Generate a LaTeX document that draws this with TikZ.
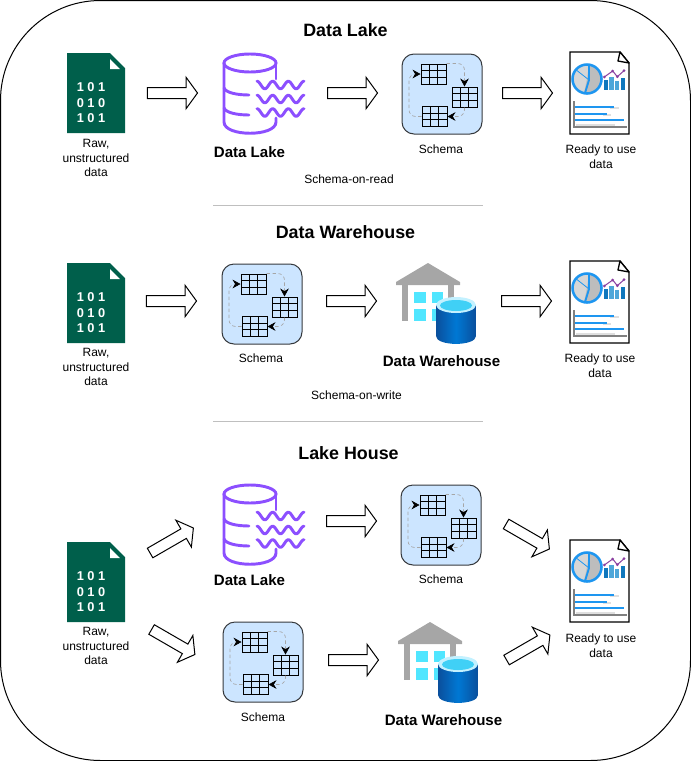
\documentclass[tikz,border=0pt]{standalone}
\usepackage{fontspec}
\setmainfont{Liberation Sans}
\usetikzlibrary{arrows.meta,shapes.arrows}
\definecolor{filegreen}{HTML}{005F4B}
\definecolor{lakepurple}{HTML}{8C4FFF}
\definecolor{schemablue}{HTML}{CCE5FF}
\definecolor{schemaline}{HTML}{36393D}
\definecolor{piegray}{HTML}{BDBDBD}
\definecolor{pielight}{HTML}{D6D6D6}
\definecolor{reportblue}{HTML}{1E96F0}
\definecolor{bardark}{HTML}{0F77BD}
\definecolor{barlight}{HTML}{4DA6D9}
\definecolor{chartpurple}{HTML}{8A3FA0}
\definecolor{housegray}{HTML}{A6A6A6}
\definecolor{windowcyan}{HTML}{50E6FF}
\definecolor{tankdark}{HTML}{0A4F9C}
\definecolor{tankmid}{HTML}{0078D4}
\definecolor{tankrim}{HTML}{C3F1FF}

\tikzset{
bittext/.style ={text=white, font=\fontsize{9.6}{11}\selectfont\bfseries, inner sep=0pt},
tablebox/.style ={rectangle, draw=black, line width=0.75pt, inner sep=0pt, minimum width=18.75pt, minimum height=15pt,
  path picture={
    \foreach \cx in {-4.2,4.2} \draw[line width=0.75pt] (\cx,-10) -- (\cx,10);
    \foreach \cy in {-3.4,3.4} \draw[line width=0.75pt] (-12.5,\cy) -- (12.5,\cy);
  }},
flowline/.style ={draw=gray!70, line width=0.5pt, dash pattern=on 2.5pt off 2pt, rounded corners=5pt,
  -{Stealth[length=6pt,width=6.5pt,inset=2pt,black]}},
rawfile/.pic ={
  \fill[filegreen] (-29,-40) -- (14,-40) -- (29,-25) -- (29,40) -- (-29,40) -- cycle;
  \fill[white] (14,-34) -- (14,-24) -- (24,-24) -- cycle;
  \node[bittext] (-row1) at (-5,-6) {1 0 1};
  \node[bittext] (-row2) at (-5,10) {0 1 0};
  \node[bittext] (-row3) at (-5,25) {1 0 1};
},
lakedb/.pic ={
  \begin{scope}[draw=lakepurple, line width=2.2pt, line cap=round]
  \draw (-13,-30) ellipse [x radius=26, y radius=9];
  \draw (-39,-30) -- (-39,29) .. controls (-39,44) and (13,44) .. (13,29) -- (13,25);
  \draw (13,-30) -- (13,-14);
  \draw (-39,-5) .. controls (-37,0) and (-25,2) .. (-14,2);
  \draw (-39,15) .. controls (-37,20) and (-25,22) .. (-14,22);
  \foreach \wy in {-8,6,19.5}
    \draw[line join=round] plot[domain=-6:41,samples=50] (\x,{\wy-3.8*cos((\x+6)*22.98)});
  \end{scope}
},
schemaset/.pic ={
  \node[rectangle, draw=schemaline, fill=schemablue, rounded corners=9pt, minimum size=60pt, line width=0.75pt] (-box) at (0,0) {};
  \node[tablebox] (-t1) at (-8.5,-20) {};
  \node[tablebox] (-t2) at (22.5,3) {};
  \node[tablebox] (-t3) at (-7.5,22.5) {};
  \coordinate (-b1) at (-33,22.5);
  \coordinate (-b2) at (-33,-20);
  \draw[flowline] (-t1.north east) -| (-t2.north);
  \draw[flowline] (-t2.south) |- (-t3.east);
  \draw[flowline] (-t3.west) -- (-b1) -- (-b2) -- (-t1.west);
},
readyreport/.pic ={
  \draw[line width=1pt, fill=white] (-30,-41) -- (20,-41) -- (29,-30) -- (29,41) -- (-30,41) -- cycle;
  \draw[line width=1pt, fill=white, line join=round] (20,-41) -- (18,-32) -- (29,-30) -- cycle;
  \fill[pielight] (-13,-14) circle [radius=14.5];
  \fill[piegray] (-13,-14) -- plot[domain=8:192,samples=30] ({-13+14.5*sin(\x)},{-14-14.5*cos(\x)}) -- cycle;
  \draw[reportblue, line width=0.6pt] (-25,-24) -- (-11,-13);
  \draw[reportblue, line width=1.4pt] (-11,-28) -- (-11,-13) -- (-15,0);
  \draw[reportblue, line width=1.9pt] (-13,-14) circle [radius=14.5];
  \fill[bardark] (4,-13) rectangle (7.7,-3);
  \fill[barlight] (9.3,-16) rectangle (13.7,-3);
  \fill[barlight] (15,-12) rectangle (18.7,-3);
  \fill[bardark] (21,-15) rectangle (25,-3);
  \draw[chartpurple, line width=0.75pt] (4.3,-16) -- (12.7,-22) -- (17.3,-16.3) -- (24,-22.3);
  \foreach \px/\py in {4.3/-16,12.7/-22,17.3/-16.3,24/-22.3}
    \fill[chartpurple] (\px,\py) circle [radius=1.5];
  \draw[gray!25, line width=1pt] (10,15) -- (19,15);
  \draw[gray!25, line width=1pt] (3,22) -- (11,22);
  \draw[gray!25, line width=1pt] (-24,32) -- (15,32);
  \draw[reportblue, line width=0.9pt] (-25,14) -- (14,14);
  \draw[reportblue, line width=0.9pt] (-25,21) -- (7,21);
  \draw[reportblue, line width=0.9pt] (-25,27) -- (24,27);
  \draw[gray, line width=1.5pt] (-26,8) -- (-26,34) -- (27,34);
},
warehouse/.pic ={
  \fill[housegray] (-8,-40) -- (24,-21) -- (24,-18) -- (-40,-18) -- (-40,-21) -- cycle;
  \fill[housegray] (-34,-18) rectangle (-28,18);
  \fill[housegray] (12,-18) rectangle (18,10);
  \fill[windowcyan] (-22,-11) rectangle (-10,0);
  \fill[windowcyan] (-4,-11) rectangle (7,0);
  \fill[windowcyan] (-22,6) rectangle (-10,18);
  \fill[windowcyan] (-4,6) rectangle (7,18);
  \shade[left color=tankdark, right color=tankdark, middle color=tankmid]
    (0,2) -- (0,33) .. controls (0,43.5) and (40,43.5) .. (40,33) -- (40,2) -- cycle;
  \fill[tankrim] (20,2) ellipse [x radius=20, y radius=8];
  \fill[windowcyan!80!tankmid] (20,2.5) ellipse [x radius=16, y radius=5.5];
}}

\begin{document}
\begin{tikzpicture}[x=0.75pt, y=-0.75pt,
label/.style ={align=center, inner sep=0pt, font=\fontsize{9}{10.9}\selectfont},
boldlabel/.style ={inner sep=0pt, font=\fontsize{11.3}{13}\selectfont\bfseries},
title/.style ={inner sep=0pt, font=\fontsize{13.4}{15}\selectfont\bfseries},
blockarrow/.style ={single arrow, draw=black, fill=white, line width=0.75pt, inner sep=3.75pt, minimum height=37.5pt,
  single arrow head extend=7.5pt, single arrow tip angle=108},
divider/.style ={draw=gray!50, line width=0.6pt}]

\useasboundingbox (0,0) rectangle (691,761);
\draw[line width=0.75pt, rounded corners=75pt] (0.5,0.5) rectangle (690.5,760.5);

\node[title] (title1) at (345.5,30) {Data Lake};
\pic (file1) at (96,93) {rawfile};
\node[label] (raw1) at (96,158) {Raw,\\unstructured\\data};
\node[blockarrow] (arrow1) at (170.5,93) {};
\pic (lake1) at (263,93) {lakedb};
\node[boldlabel] (lakelabel1) at (249.5,152) {Data Lake};
\node[blockarrow] (arrow2) at (350.5,93) {};
\pic (schema1) at (442,94) {schemaset};
\node[label] (schemalabel1) at (441,149) {Schema};
\node[blockarrow] (arrow3) at (525.5,93) {};
\pic (report1) at (600,93) {readyreport};
\node[label] (ready1) at (601,156.5) {Ready to use\\data};
\node[label] (read) at (349,179) {Schema-on-read};
\coordinate (div1a) at (213,205);
\coordinate (div1b) at (483,205);
\draw[divider] (div1a) -- (div1b);

\node[title] (title2) at (345.5,232) {Data Warehouse};
\pic (file2) at (96,303) {rawfile};
\node[label] (raw2) at (96,367) {Raw,\\unstructured\\data};
\node[blockarrow] (arrow4) at (169.5,301) {};
\pic (schema2) at (262,304) {schemaset};
\node[label] (schemalabel2) at (261,358) {Schema};
\node[blockarrow] (arrow5) at (349.5,301) {};
\pic (house1) at (436,303) {warehouse};
\node[boldlabel] (houselabel1) at (441.5,361) {Data Warehouse};
\node[blockarrow] (arrow6) at (524.5,301) {};
\pic (report2) at (600,302) {readyreport};
\node[label] (ready2) at (600,365.5) {Ready to use\\data};
\node[label] (write) at (356.5,395) {Schema-on-write};
\coordinate (div2a) at (213,421);
\coordinate (div2b) at (483,421);
\draw[divider] (div2a) -- (div2b);

\node[title] (title3) at (348.5,453) {Lake House};
\pic (file3) at (96,582) {rawfile};
\node[label] (raw3) at (96,646) {Raw,\\unstructured\\data};
\node[blockarrow, rotate=30] (arrow7) at (170,541.5) {};
\node[blockarrow, rotate=-30] (arrow8) at (171.5,641) {};
\pic (lake2) at (263,524) {lakedb};
\node[boldlabel] (lakelabel2) at (249.5,580) {Data Lake};
\node[blockarrow] (arrow9) at (349.5,521) {};
\pic (schema3) at (441,525) {schemaset};
\node[label] (schemalabel3) at (441,579) {Schema};
\pic (schema4) at (263,662) {schemaset};
\node[label] (schemalabel4) at (263,717) {Schema};
\node[blockarrow] (arrow10) at (351.5,660) {};
\pic (house2) at (438,662) {warehouse};
\node[boldlabel] (houselabel2) at (443.5,720) {Data Warehouse};
\node[blockarrow, rotate=-30] (arrow11) at (526,535.5) {};
\node[blockarrow, rotate=30] (arrow12) at (526.5,648.5) {};
\pic (report3) at (600,581) {readyreport};
\node[label] (ready3) at (601,645.5) {Ready to use\\data};
\end{tikzpicture}
\end{document}
